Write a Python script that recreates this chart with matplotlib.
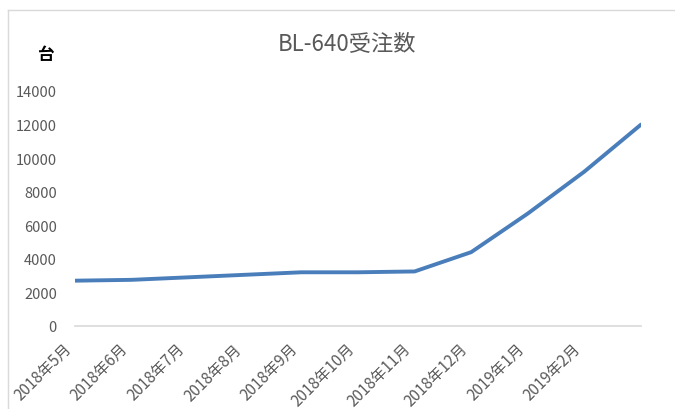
import matplotlib
matplotlib.use("Agg")
import matplotlib.pyplot as plt
from matplotlib.lines import Line2D

plt.rcParams['font.family'] = ['Noto Sans CJK JP', 'DejaVu Sans']

months = ["2018年5月", "2018年6月", "2018年7月", "2018年8月", "2018年9月",
          "2018年10月", "2018年11月", "2018年12月", "2019年1月", "2019年2月", ""]
orders = [2700, 2750, 2900, 3050, 3200, 3200, 3250, 4400, 6700, 9200, 12000]
yticks = [0, 2000, 4000, 6000, 8000, 10000, 12000, 14000]

W, H = 675, 410
fig = plt.figure(figsize=(W / 100, H / 100), dpi=100)
ax = fig.add_axes([75 / W, 1 - 327 / H, (641 - 75) / W, (327 - 92) / H])

x = list(range(len(orders)))
ax.plot(x, orders, color='#4a7ebb', lw=2.8, solid_capstyle='round', solid_joinstyle='round')

ax.set_xlim(0, len(orders) - 1)
ax.set_ylim(0, 14000)
ax.set_yticks(yticks)
ax.set_yticklabels([str(v) for v in yticks])
ax.set_xticks(x)
ax.set_xticklabels(months, rotation=45, ha='right', va='top', rotation_mode='default')

for s in ['top', 'right', 'left']:
    ax.spines[s].set_visible(False)
ax.spines['bottom'].set_color('#d9d9d9')
ax.spines['bottom'].set_linewidth(1.2)
ax.tick_params(axis='both', length=0, colors='#595959')
ax.tick_params(axis='y', pad=13, labelsize=10.5)
ax.tick_params(axis='x', pad=10, labelsize=11)

fig.text(347 / W, 1 - 44 / H, "BL-640受注数", ha='center', va='center',
         fontsize=16, color='#595959')
fig.text(45 / W, 1 - 55 / H, "台", ha='center', va='center',
         fontsize=12, color='black', fontweight='bold')

# chart border (left and top)
fig.add_artist(Line2D([8 / W, 8 / W], [0, 1 - 11 / H], transform=fig.transFigure,
                      color='#d9d9d9', lw=1))
fig.add_artist(Line2D([8 / W, 1], [1 - 11 / H, 1 - 11 / H], transform=fig.transFigure,
                      color='#d9d9d9', lw=1))

fig.savefig("out.png", dpi=100)
